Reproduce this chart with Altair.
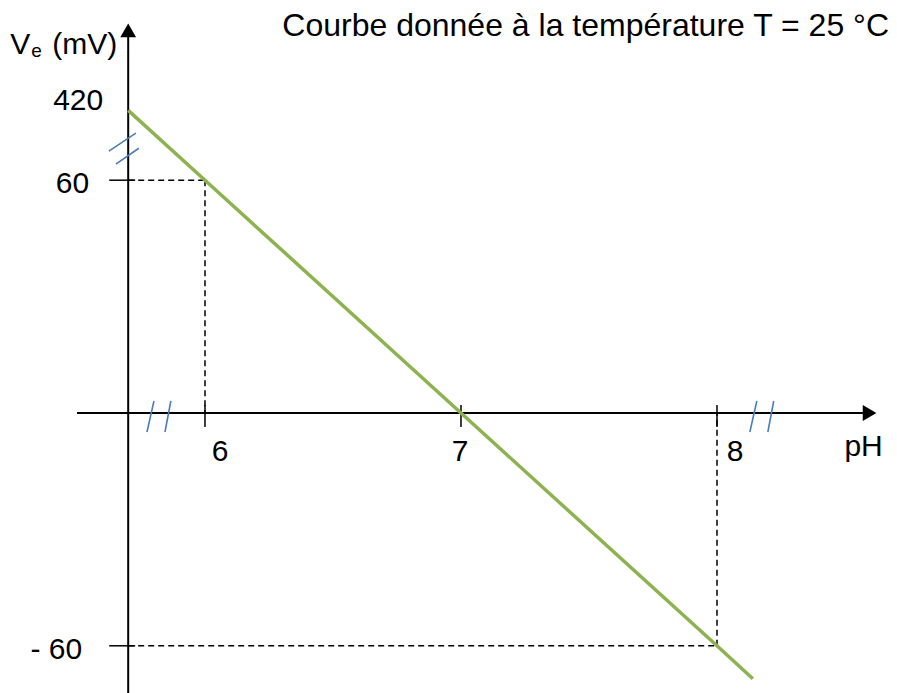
import altair as alt
import pandas as pd

# ---------------- data (display coordinates of the drawn, broken axes) ----------------
ph_ticks = [6, 7, 8]
ph_tick_labels = ["6", "7", "8"]
ve_ticks = [60, -60]
ve_tick_labels = ["60", "- 60"]

# straight line Ve = f(pH), read on the picture (starts on the Ve axis)
curve_ph = [5.70, 6.0, 7.0, 8.0, 8.14]
curve_ve = [78.0, 60.0, 0.0, -60.0, -68.5]
intercept_label = "420"

# points whose coordinates are recalled by dashed guides
guide_ph = [6, 8]
guide_ve = [60, -60]

# broken axes
ve_axis_ph = 5.70            # Ve axis drawn here (pH axis is broken)
ph_axis_span = [5.50, 8.596]
ve_axis_span = [-75.0, 98.6]
ph_break_ph = [5.82, 8.175]
ph_break_ve = [-0.9, -0.9]
ve_break_ph = [5.687]
ve_break_ve = [68.0]

title_text = "Courbe donnée à la température T = 25 °C"
x_name = "pH"
y_name_main = "V"
y_name_sub = "e"
y_name_unit = "(mV)"

# ---------------- styles ----------------
FONT = "Liberation Sans"
FS = 30
GREEN = "#8CB350"
BLUE = "#4A7EBB"
W, H = 881, 677
PX_PER_PH = 256.0
PX_PER_MV = 3.88
x0 = 5.2305
y1 = 104.38
xs = alt.Scale(domain=[x0, x0 + W / PX_PER_PH], nice=False, zero=False)
ys = alt.Scale(domain=[y1 - H / PX_PER_MV, y1], nice=False, zero=False)


def X(f):
    return alt.X(f, type="quantitative", scale=xs, axis=None)


def Y(f):
    return alt.Y(f, type="quantitative", scale=ys, axis=None)


layers = []

# axes lines
axes_df = pd.DataFrame({
    "x": [ph_axis_span[0], ve_axis_ph],
    "x2": [ph_axis_span[1], ve_axis_ph],
    "y": [0.0, ve_axis_span[0]],
    "y2": [0.0, ve_axis_span[1]],
})
layers.append(alt.Chart(axes_df).mark_rule(color="black", strokeWidth=2).encode(
    x=X("x"), x2="x2", y=Y("y"), y2="y2"))

# arrow heads
arrow_df = pd.DataFrame({
    "x": [ph_axis_span[1], ve_axis_ph],
    "y": [0.0, ve_axis_span[1]],
    "shape": ["triangle-right", "triangle-up"],
})
layers.append(alt.Chart(arrow_df).mark_point(filled=True, color="black", size=250, opacity=1).encode(
    x=X("x"), y=Y("y"), shape=alt.Shape("shape:N", scale=None)))

# dashed guides
guide_df = pd.DataFrame({"ph": guide_ph, "ve": guide_ve, "zero": [0.0] * len(guide_ph),
                         "axis": [ve_axis_ph] * len(guide_ph)})
layers.append(alt.Chart(guide_df).mark_rule(color="black", strokeWidth=1.5, strokeDash=[6, 4]).encode(
    x=X("ph"), y=Y("ve"), y2="zero"))
layers.append(alt.Chart(guide_df).mark_rule(color="black", strokeWidth=1.5, strokeDash=[6, 4]).encode(
    x=X("axis"), x2="ph", y=Y("ve")))

# ticks
xt_df = pd.DataFrame({"ph": ph_ticks, "zero": [0.0] * len(ph_ticks)})
layers.append(alt.Chart(xt_df).mark_rule(color="black", strokeWidth=1.5, yOffset=-8, y2Offset=14).encode(
    x=X("ph"), y=Y("zero"), y2="zero"))
yt_df = pd.DataFrame({"ve": ve_ticks, "axis": [ve_axis_ph] * len(ve_ticks)})
layers.append(alt.Chart(yt_df).mark_rule(color="black", strokeWidth=1.5, xOffset=-19, x2Offset=7).encode(
    x=X("axis"), x2="axis", y=Y("ve")))

# curve
curve_df = pd.DataFrame({"ph": curve_ph, "ve": curve_ve})
layers.append(alt.Chart(curve_df).mark_line(color=GREEN, strokeWidth=3.5).encode(
    x=X("ph"), y=Y("ve"), order="ph:Q"))

# break marks
pb_df = pd.DataFrame({"ph": ph_break_ph, "ve": ph_break_ve})
layers.append(alt.Chart(pb_df).mark_point(
    shape="M-0.77,1L-0.32,-1M0.39,1L0.77,-1", size=961, filled=False,
    color=BLUE, strokeWidth=1.6, opacity=1).encode(x=X("ph"), y=Y("ve")))
vb_df = pd.DataFrame({"ph": ve_break_ph, "ve": ve_break_ve})
layers.append(alt.Chart(vb_df).mark_point(
    shape="M-1.03,0.13L0.71,-1.03M-0.58,0.97L0.9,-0.06", size=961, filled=False,
    color=BLUE, strokeWidth=1.6, opacity=1).encode(x=X("ph"), y=Y("ve")))

# x tick labels
x_dx = {"6": 15, "7": -1, "8": 18}
xl_df = pd.DataFrame({"ph": ph_ticks, "label": ph_tick_labels, "zero": [0.0] * len(ph_ticks)})
for lab in ph_tick_labels:
    layers.append(alt.Chart(xl_df).transform_filter(alt.datum.label == lab).mark_text(
        font=FONT, fontSize=FS, color="black", align="center", baseline="middle",
        dx=x_dx[lab], dy=39).encode(x=X("ph"), y=Y("zero"), text="label:N"))

# y tick labels
y_off = {"60": (-39, 4), "- 60": (-46, 4)}
yl_df = pd.DataFrame({"ve": ve_ticks, "label": ve_tick_labels, "axis": [ve_axis_ph] * len(ve_ticks)})
for lab in ve_tick_labels:
    dx, dy = y_off[lab]
    layers.append(alt.Chart(yl_df).transform_filter(alt.datum.label == lab).mark_text(
        font=FONT, fontSize=FS, color="black", align="right", baseline="middle",
        dx=dx, dy=dy).encode(x=X("axis"), y=Y("ve"), text="label:N"))

# intercept label (420) at the start of the line
il_df = pd.DataFrame({"ph": [curve_ph[0]], "ve": [curve_ve[0]], "label": [intercept_label]})
layers.append(alt.Chart(il_df).mark_text(
    font=FONT, fontSize=FS, color="black", align="right", baseline="middle", dx=-25, dy=-9).encode(
    x=X("ph"), y=Y("ve"), text="label:N"))

# axis names
xn_df = pd.DataFrame({"ph": [ph_axis_span[1]], "ve": [0.0], "label": [x_name]})
layers.append(alt.Chart(xn_df).mark_text(
    font=FONT, fontSize=FS, color="black", align="center", baseline="middle", dx=-6, dy=34).encode(
    x=X("ph"), y=Y("ve"), text="label:N"))
yn_df = pd.DataFrame({"ph": [ve_axis_ph], "ve": [ve_axis_span[1]],
                      "main": [y_name_main], "sub": [y_name_sub], "unit": [y_name_unit]})
layers.append(alt.Chart(yn_df).mark_text(
    font=FONT, fontSize=FS, color="black", align="left", baseline="alphabetic", dx=-118, dy=24).encode(
    x=X("ph"), y=Y("ve"), text="main:N"))
layers.append(alt.Chart(yn_df).mark_text(
    font=FONT, fontSize=19, color="black", align="left", baseline="alphabetic", dx=-97, dy=27).encode(
    x=X("ph"), y=Y("ve"), text="sub:N"))
layers.append(alt.Chart(yn_df).mark_text(
    font=FONT, fontSize=FS, color="black", align="right", baseline="alphabetic", dx=-11, dy=24).encode(
    x=X("ph"), y=Y("ve"), text="unit:N"))

# title text (top right)
t_df = pd.DataFrame({"label": [title_text]})
layers.append(alt.Chart(t_df).mark_text(
    font=FONT, fontSize=32, color="black", align="right", baseline="top").encode(
    x=alt.value(W), y=alt.value(3), text="label:N"))

chart = alt.layer(*layers).properties(width=W, height=H, padding=0).configure_view(stroke=None)
chart.save("out.html", embed_options={"renderer": "svg", "actions": False})
